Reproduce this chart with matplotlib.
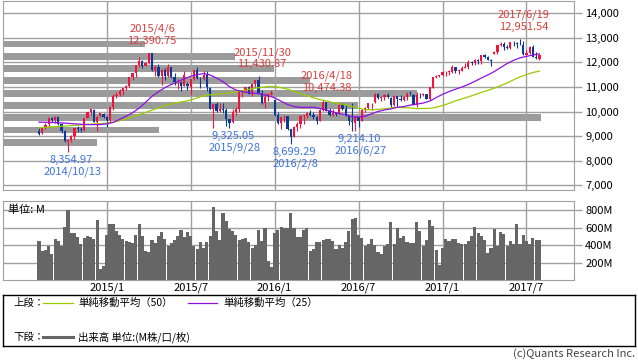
import pandas as pd
import matplotlib
matplotlib.use("Agg")
import matplotlib.pyplot as plt
from matplotlib.ticker import FuncFormatter

plt.rcParams['font.family'] = ['Noto Sans CJK JP', 'DejaVu Sans']

# weekly candles, Monday of each week 2014/8/11 .. 2017/7/31
weeks = pd.date_range("2014-08-11", periods=156, freq="W-MON")

opens = [
    9200, 9110, 9340, 9480, 9740, 9650, 9790, 9480, 9190, 8780,
    8860, 8990, 9330, 9290, 9250, 9740, 9980, 10080, 9590, 9800,
    9920, 9770, 9650, 10170, 10650, 10690, 10840, 10960, 11050, 11400,
    11560, 11900, 12040, 11870, 11970, 12370, 11690, 11810, 11450, 11700,
    11450, 11810, 11410, 11190, 11190, 11050, 11120, 11000, 11330, 11680,
    11340, 11310, 11490, 10980, 10120, 10290, 10040, 10120, 10080, 9690,
    9560, 9990, 10100, 10790, 10850, 10990, 10710, 11120, 11290, 10750,
    10340, 10600, 10730, 10480, 9850, 9550, 9760, 9800, 9280, 8970,
    9390, 9510, 9820, 9830, 9950, 9850, 9790, 9620, 10050, 10370,
    10040, 9870, 9950, 9920, 10290, 10100, 9830, 9630, 9550, 9770,
    9630, 10070, 10150, 10340, 10370, 10710, 10540, 10590, 10680, 10570,
    10280, 10620, 10510, 10490, 10580, 10710, 10690, 10260, 10670, 10660,
    10700, 10510, 10980, 11400, 11450, 11480, 11600, 11630, 11630, 11810,
    11650, 11670, 11760, 11800, 12020, 11960, 12090, 12060, 12310, 12220,
    12100, 12350, 12440, 12720, 12770, 12640, 12600, 12820, 12810, 12750,
    12730, 12320, 12390, 12630, 12240, 12160]

highs = [
    9330, 9370, 9520, 9760, 9760, 9830, 9800, 9520, 9260, 8890,
    9060, 9340, 9400, 9380, 9750, 10000, 10093, 10100, 9800, 9930,
    9930, 9800, 10200, 10700, 10810, 10900, 10970, 11100, 11410, 11560,
    11910, 12220, 12100, 12030, 12391, 12380, 11880, 11920, 11720, 11780,
    11920, 11830, 11560, 11330, 11230, 11640, 11200, 11330, 11690, 11800,
    11400, 11670, 11650, 11000, 10320, 10380, 10330, 10360, 10130, 9700,
    10100, 10170, 10800, 10880, 11000, 11050, 11140, 11300, 11431, 10890,
    10770, 10760, 10860, 10490, 9990, 9760, 9860, 9810, 9290, 9430,
    9580, 9850, 9850, 10000, 10070, 10000, 9840, 10100, 10474, 10390,
    10130, 10090, 10000, 10290, 10340, 10280, 9840, 10350, 9800, 9790,
    10100, 10200, 10350, 10360, 10750, 10760, 10640, 10720, 10750, 10580,
    10680, 10640, 10660, 10640, 10800, 10830, 10700, 10800, 10740, 10760,
    10730, 11000, 11420, 11480, 11490, 11670, 11640, 11700, 11890, 11830,
    11720, 11870, 11960, 12080, 12060, 12130, 12150, 12320, 12330, 12270,
    12130, 12470, 12720, 12840, 12840, 12720, 12830, 12880, 12850, 12952,
    12890, 12500, 12680, 12690, 12440, 12330]

lows = [
    9040, 9090, 9300, 9380, 9560, 9550, 9450, 9140, 8770, 8355,
    8780, 8900, 9180, 9160, 9200, 9720, 9860, 9590, 9220, 9780,
    9750, 9380, 9570, 10080, 10570, 10620, 10660, 10880, 11020, 11280,
    11420, 11820, 11770, 11840, 11940, 11670, 11450, 11400, 11100, 11280,
    11420, 11360, 11100, 10930, 10840, 11030, 10860, 10670, 11290, 11340,
    10970, 11280, 10830, 10120, 9340, 9980, 9980, 9950, 9430, 9325,
    9520, 9860, 9990, 10600, 10790, 10700, 10630, 11000, 10740, 10320,
    10140, 10440, 10680, 9830, 9510, 9310, 9580, 9260, 8699, 8960,
    9200, 9340, 9500, 9720, 9840, 9710, 9500, 9610, 10030, 10010,
    9830, 9830, 9800, 9910, 10060, 9830, 9450, 9226, 9214, 9370,
    9620, 9990, 10120, 10070, 10350, 10520, 10420, 10480, 10540, 10200,
    10240, 10190, 10450, 10430, 10480, 10660, 10250, 10180, 10570, 10630,
    10500, 10470, 10950, 11350, 11400, 11460, 11450, 11490, 11550, 11550,
    11540, 11650, 11760, 11750, 11880, 11900, 11930, 11940, 12180, 12100,
    11850, 12330, 12360, 12660, 12500, 12550, 12560, 12650, 12580, 12700,
    12290, 12300, 12350, 12220, 12120, 12080]

closes = [
    9092, 9339, 9470, 9747, 9651, 9799, 9490, 9195, 8788, 8850,
    8988, 9327, 9291, 9253, 9733, 9980, 10087, 9595, 9787, 9927,
    9765, 9648, 10168, 10649, 10694, 10846, 10963, 11051, 11402, 11551,
    11902, 12040, 11868, 11967, 12375, 11688, 11811, 11454, 11709, 11447,
    11815, 11414, 11197, 11196, 11040, 11492, 11058, 11316, 11673, 11347,
    11309, 11491, 10985, 10124, 10298, 10038, 10123, 10084, 9688, 9553,
    9994, 10104, 10795, 10851, 10988, 10708, 11120, 11293, 10752, 10340,
    10608, 10728, 10743, 9849, 9545, 9764, 9798, 9286, 8967, 9388,
    9513, 9824, 9831, 9951, 9851, 9795, 9622, 10051, 10373, 10039,
    9870, 9952, 9917, 10287, 10103, 9834, 9631, 9557, 9777, 9630,
    10066, 10147, 10337, 10367, 10713, 10544, 10588, 10684, 10573, 10276,
    10627, 10511, 10490, 10580, 10711, 10696, 10259, 10668, 10664, 10699,
    10513, 10986, 11404, 11450, 11481, 11599, 11629, 11630, 11814, 11651,
    11666, 11757, 11804, 12027, 11963, 12095, 12064, 12313, 12225, 12109,
    12049, 12438, 12717, 12770, 12638, 12602, 12823, 12816, 12753, 12733,
    12325, 12389, 12631, 12240, 12163, 12298]

# weekly volume, M
volume = [
    444, 331, 346, 388, 298, 466, 447, 388, 605, 803,
    537, 537, 489, 410, 478, 500, 489, 466, 691, 122,
    163, 522, 646, 638, 560, 511, 470, 444, 433, 425,
    511, 638, 508, 335, 324, 455, 425, 500, 548, 466,
    392, 422, 455, 500, 579, 492, 548, 500, 388, 354,
    433, 366, 433, 503, 837, 560, 463, 766, 683, 590,
    557, 511, 463, 470, 485, 433, 373, 399, 579, 444,
    601, 219, 144, 537, 575, 605, 601, 601, 770, 601,
    489, 489, 575, 601, 331, 352, 433, 433, 459, 466,
    466, 451, 352, 403, 366, 433, 560, 702, 713, 515,
    478, 392, 418, 466, 403, 320, 298, 392, 414, 668,
    414, 601, 481, 503, 433, 422, 422, 668, 560, 392,
    459, 691, 616, 346, 174, 373, 466, 451, 466, 466,
    422, 410, 410, 444, 500, 609, 541, 500, 455, 309,
    373, 590, 388, 548, 533, 388, 444, 410, 638, 410,
    522, 444, 410, 478, 455, 455]

# moving averages (week number -> value)
ma_weeks = [1, 4, 8, 12, 16, 20] + list(range(22, 157, 2))
ma25 = [9570, 9560, 9540, 9500, 9470, 9470,
        9500, 9560, 9683, 9811, 9953, 10139, 10373, 10622, 10808, 10975,
        11101, 11222, 11335, 11438, 11505, 11545, 11491, 11366, 11218, 11014,
        10878, 10817, 10755, 10747, 10701, 10652, 10557, 10423, 10287, 10204,
        10171, 10172, 10176, 10127, 10070, 9989, 9916, 9875, 9784, 9784,
        9810, 9909, 10003, 10067, 10109, 10178, 10204, 10264, 10306, 10345,
        10427, 10567, 10703, 10814, 10909, 11001, 11104, 11230, 11365, 11487,
        11628, 11794, 11955, 12085, 12187, 12247, 12304, 12350]
ma50 = [9340, 9370, 9400, 9440, 9480, 9510,
        9530, 9570, 9630, 9700, 9790, 9880, 9960, 10060, 10150, 10240,
        10310, 10370, 10410, 10470, 10559, 10646, 10684, 10702, 10732, 10764,
        10800, 10862, 10902, 10956, 10984, 11022, 11018, 10973, 10914, 10822,
        10730, 10649, 10561, 10489, 10434, 10366, 10322, 10270, 10207, 10134,
        10083, 10075, 10093, 10114, 10146, 10167, 10156, 10150, 10120, 10126,
        10129, 10174, 10250, 10333, 10435, 10517, 10598, 10686, 10780, 10859,
        10952, 11058, 11164, 11293, 11414, 11504, 11588, 11652]

# volume by price (relative)
vbp_price = [8750, 9250, 9750, 10250, 10750, 11250, 11750, 12250, 12750]
vbp_volume = [165, 273, 942, 622, 725, 538, 475, 406, 249]

peak_dates = ["2015-04-06", "2015-11-30", "2016-04-18", "2017-06-19"]
peak_values = [12390.75, 11430.87, 10474.38, 12951.54]
trough_dates = ["2014-10-13", "2015-09-28", "2016-02-08", "2016-06-27"]
trough_values = [8354.97, 9325.05, 8699.29, 9214.10]

grid_dates = pd.to_datetime(["2015-01-05", "2015-07-06", "2016-01-04",
                             "2016-07-04", "2017-01-02", "2017-07-03"])
grid_labels = ["2015/1", "2015/7", "2016/1", "2016/7", "2017/1", "2017/7"]

UP = "#f0143c"
DOWN = "#0c3896"
GRID = "#a0a0a0"
X_LEFT = pd.Timestamp("2014-05-25")
X_RIGHT = pd.Timestamp("2017-10-14")

fig = plt.figure(figsize=(6.38, 3.62), dpi=100)
ax = fig.add_axes([3/638, 1 - 190/362, 571/638, 189.3/362])
axv = fig.add_axes([3/638, 1 - 280/362, 571/638, 79/362])
leg = fig.add_axes([3/638, 1 - 346/362, 632/638, 51/362])

# volume by price behind the candles
ax_vbp = ax.twiny()
ax_vbp.set_zorder(1)
ax.set_zorder(2)
ax.patch.set_visible(False)
ax_vbp.barh(vbp_price, vbp_volume, height=280, color="#9b9b9b", lw=0)
ax_vbp.set_xlim(0, 1000)
ax_vbp.set_xticks([])
for s in ax_vbp.spines.values():
    s.set_visible(False)

# candles
cols = [UP if c >= o else DOWN for o, c in zip(opens, closes)]
bottoms = [min(o, c) for o, c in zip(opens, closes)]
heights = [max(abs(c - o), 25) for o, c in zip(opens, closes)]
ax.vlines(weeks, lows, highs, colors=cols, lw=0.8, zorder=3)
ax.bar(weeks, heights, bottom=bottoms, width=4.8, color=cols, lw=0, zorder=3)

ma_x = [weeks[i - 1] for i in ma_weeks]
ax.plot(ma_x, ma50, color="#99cc00", lw=0.9, zorder=4)
ax.plot(ma_x, ma25, color="#9010e0", lw=0.9, zorder=4)

for d, v in zip(peak_dates, peak_values):
    t = pd.Timestamp(d)
    ax.annotate(f"{v:,.2f}", (t, v), xytext=(2.5, 8.6), textcoords="offset points",
                ha="center", va="center", fontsize=8, color="#d8403c", zorder=5)
    ax.annotate(f"{t.year}/{t.month}/{t.day}", (t, v), xytext=(2.5, 17.3),
                textcoords="offset points", ha="center", va="center",
                fontsize=8, color="#d8403c", zorder=5)
for d, v in zip(trough_dates, trough_values):
    t = pd.Timestamp(d)
    ax.annotate(f"{v:,.2f}", (t, v), xytext=(2.5, -5.8), textcoords="offset points",
                ha="center", va="center", fontsize=8, color="#3f74e0", zorder=5)
    ax.annotate(f"{t.year}/{t.month}/{t.day}", (t, v), xytext=(3.5, -14.4),
                textcoords="offset points", ha="center", va="center",
                fontsize=8, color="#3f74e0", zorder=5)

ax.set_xlim(X_LEFT, X_RIGHT)
ax.set_ylim(6808, 14513)
ax.set_xticks(grid_dates)
ax.set_yticks(range(7000, 14001, 1000))
ax.yaxis.set_major_formatter(FuncFormatter(lambda v, p: f"{v:,.0f}"))
ax.yaxis.tick_right()
ax.tick_params(axis="x", length=0, labelbottom=False)
ax.tick_params(axis="y", length=6, width=1, color=GRID, labelsize=8, pad=2)
ax.grid(True, color=GRID, lw=1)
for s in ax.spines.values():
    s.set_color(GRID)

# volume panel
axv.bar(weeks, volume, width=6.7, color="#666666", lw=0, zorder=3)
axv.set_xlim(X_LEFT, X_RIGHT)
axv.set_ylim(0, 907)
axv.set_xticks(grid_dates)
axv.set_xticklabels(grid_labels)
axv.set_yticks([200, 400, 600, 800])
axv.yaxis.set_major_formatter(FuncFormatter(lambda v, p: f"{v:.0f}M"))
axv.yaxis.tick_right()
axv.tick_params(axis="x", length=0, labelsize=8, pad=2)
axv.tick_params(axis="y", length=6, width=1, color=GRID, labelsize=8, pad=2)
axv.grid(True, color=GRID, lw=1)
for s in axv.spines.values():
    s.set_color(GRID)
axv.text(0.009, 0.886, "単位: M", transform=axv.transAxes, fontsize=8,
         ha="left", va="center", zorder=5)

# legend box
leg.set_xlim(0, 632)
leg.set_ylim(51, 0)
leg.set_xticks([])
leg.set_yticks([])
for s in leg.spines.values():
    s.set_color("black")
    s.set_linewidth(1)
leg.text(10, 8, "上段：", fontsize=7.5, va="center")
leg.plot([40, 70], [8, 8], color="#99cc00", lw=0.9)
leg.text(75, 8, "単純移動平均（50）", fontsize=7.5, va="center")
leg.plot([185, 214], [8, 8], color="#9010e0", lw=0.9)
leg.text(220, 8, "単純移動平均（25）", fontsize=7.5, va="center")
leg.text(10, 42, "下段：", fontsize=7.5, va="center")
leg.plot([40, 70], [42, 42], color="#666666", lw=2.2)
leg.text(75, 42, "出来高 単位:(M株/口/枚)", fontsize=7.5, va="center")

fig.text(635/638, 1 - 354/362, "(c)Quants Research Inc.", ha="right",
         va="center", fontsize=8, color="#444444")

fig.savefig("out.png", dpi=100)
